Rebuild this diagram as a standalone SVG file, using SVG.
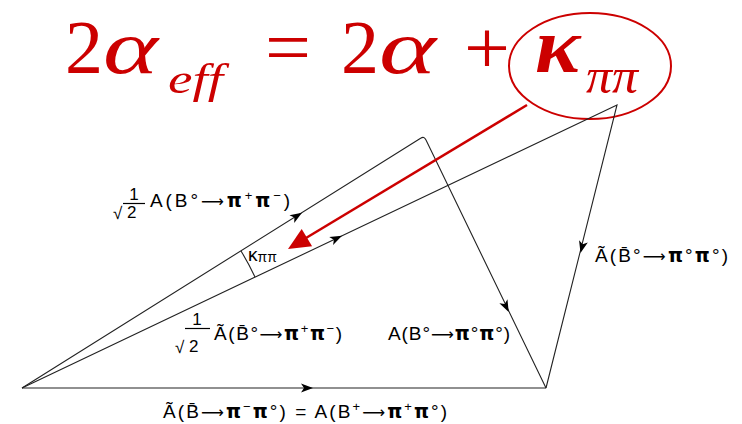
<svg xmlns="http://www.w3.org/2000/svg" width="742" height="424" viewBox="0 0 742 424">
<style>
.t{fill:#cc0000;font-family:"Liberation Serif","Times New Roman",serif}
.i{font-style:italic}
.ln{stroke:#222;stroke-width:1.1;fill:none}
.lbl{font-family:"Liberation Sans",Arial,sans-serif;font-size:19px;fill:#000}
.sm{font-size:13px}
.ar{font-family:"DejaVu Sans",sans-serif;font-size:16px}
.pi{font-family:"DejaVu Sans",sans-serif;font-size:19px;font-weight:bold}
.fr{font-family:"Liberation Sans",Arial,sans-serif;font-size:17px;fill:#000}
</style>
<defs>
<path id="ah" d="M0,0 L-12,-4.5 L-9,0 L-12,4.5 Z" fill="#000"/>
</defs>
<rect width="742" height="424" fill="#fff"/>
<g id="title">
<text class="t" x="65" y="73" font-size="76">2</text>
<text class="t i" x="103" y="73" font-size="76" textLength="55" lengthAdjust="spacingAndGlyphs">α</text>
<text class="t i" x="168" y="93" font-size="42" textLength="55" lengthAdjust="spacingAndGlyphs">eff</text>
<text class="t" x="265" y="73" font-size="76" textLength="46" lengthAdjust="spacingAndGlyphs">=</text>
<text class="t" x="341" y="73" font-size="76">2</text>
<text class="t i" x="379" y="73" font-size="76" textLength="57" lengthAdjust="spacingAndGlyphs">α</text>
<text class="t" x="464" y="73" font-size="76" textLength="46" lengthAdjust="spacingAndGlyphs">+</text>
<text class="t i" x="535" y="72" font-size="78" font-weight="bold" textLength="45" lengthAdjust="spacingAndGlyphs">κ</text>
<text class="t i" x="586" y="93" font-size="50" textLength="52" lengthAdjust="spacingAndGlyphs">ππ</text>
</g>
<g id="highlight">
<ellipse cx="590" cy="66" rx="81" ry="53" fill="none" stroke="#cc0000" stroke-width="2"/>
</g>
<g id="connectors">
<line class="ln" x1="22" y1="388" x2="546" y2="388"/>
<path class="ln" d="M22,388 L421,138 Q424,136 426,140 L546,388"/>
<path class="ln" d="M22,388 L617,105 L546,388"/>
<path class="ln" d="M241,251 A258,258 0 0 1 255,277"/>
<use href="#ah" transform="translate(313,388)"/>
<use href="#ah" transform="translate(302,212.7) rotate(-32.05)"/>
<use href="#ah" transform="translate(342,235.8) rotate(-25.43)"/>
<use href="#ah" transform="translate(508.7,312) rotate(63.9)"/>
<use href="#ah" transform="translate(580.5,253) rotate(104.1)"/>
<line x1="527" y1="105" x2="306" y2="238" stroke="#cc0000" stroke-width="2.5"/>
<polygon points="288,249 312.1,246.2 301.7,229" fill="#cc0000"/>
</g>
<g id="label-a-pm">
<text class="fr" x="134" y="200" text-anchor="middle">1</text>
<line x1="123" y1="203.5" x2="145" y2="203.5" stroke="#000" stroke-width="1.2"/>
<text class="fr" x="113" y="219" font-size="15">√</text>
<text class="fr" x="127" y="218" font-size="19">2</text>
<text class="lbl" x="150" y="207" textLength="140">A(B°<tspan class="ar">⟶</tspan><tspan class="pi">π</tspan><tspan class="sm" dy="-7">+</tspan><tspan class="pi" dy="7">π</tspan><tspan class="sm" dy="-7">−</tspan><tspan dy="7">)</tspan></text>
</g>
<g id="label-kappa">
<text class="lbl" x="248" y="261" font-size="16">κ<tspan font-size="14" dy="1">ππ</tspan></text>
</g>
<g id="label-abar-pm">
<text class="fr" x="197" y="325" text-anchor="middle">1</text>
<line x1="185" y1="328.5" x2="210" y2="328.5" stroke="#000" stroke-width="1.2"/>
<text class="fr" x="175" y="353" font-size="15">√</text>
<text class="fr" x="189" y="352" font-size="19">2</text>
<text class="lbl" x="214" y="340" textLength="128">Ã(B̄°<tspan class="ar">⟶</tspan><tspan class="pi">π</tspan><tspan class="sm" dy="-7">+</tspan><tspan class="pi" dy="7">π</tspan><tspan class="sm" dy="-7">−</tspan><tspan dy="7">)</tspan></text>
</g>
<g id="label-a-00">
<text class="lbl" x="388" y="340" textLength="122">A(B°<tspan class="ar">⟶</tspan><tspan class="pi">π</tspan>°<tspan class="pi">π</tspan>°)</text>
</g>
<g id="label-abar-00">
<text class="lbl" x="595" y="262" textLength="133">Ã(B̄°<tspan class="ar">⟶</tspan><tspan class="pi">π</tspan>°<tspan class="pi">π</tspan>°)</text>
</g>
<g id="label-charged">
<text class="lbl" x="163" y="418" textLength="284">Ã(B̄<tspan class="ar">⟶</tspan><tspan class="pi">π</tspan><tspan class="sm" dy="-7">−</tspan><tspan class="pi" dy="7">π</tspan>°) = A(B<tspan class="sm" dy="-7">+</tspan><tspan class="ar" dy="7">⟶</tspan><tspan class="pi">π</tspan><tspan class="sm" dy="-7">+</tspan><tspan class="pi" dy="7">π</tspan>°)</text>
</g>
</svg>
